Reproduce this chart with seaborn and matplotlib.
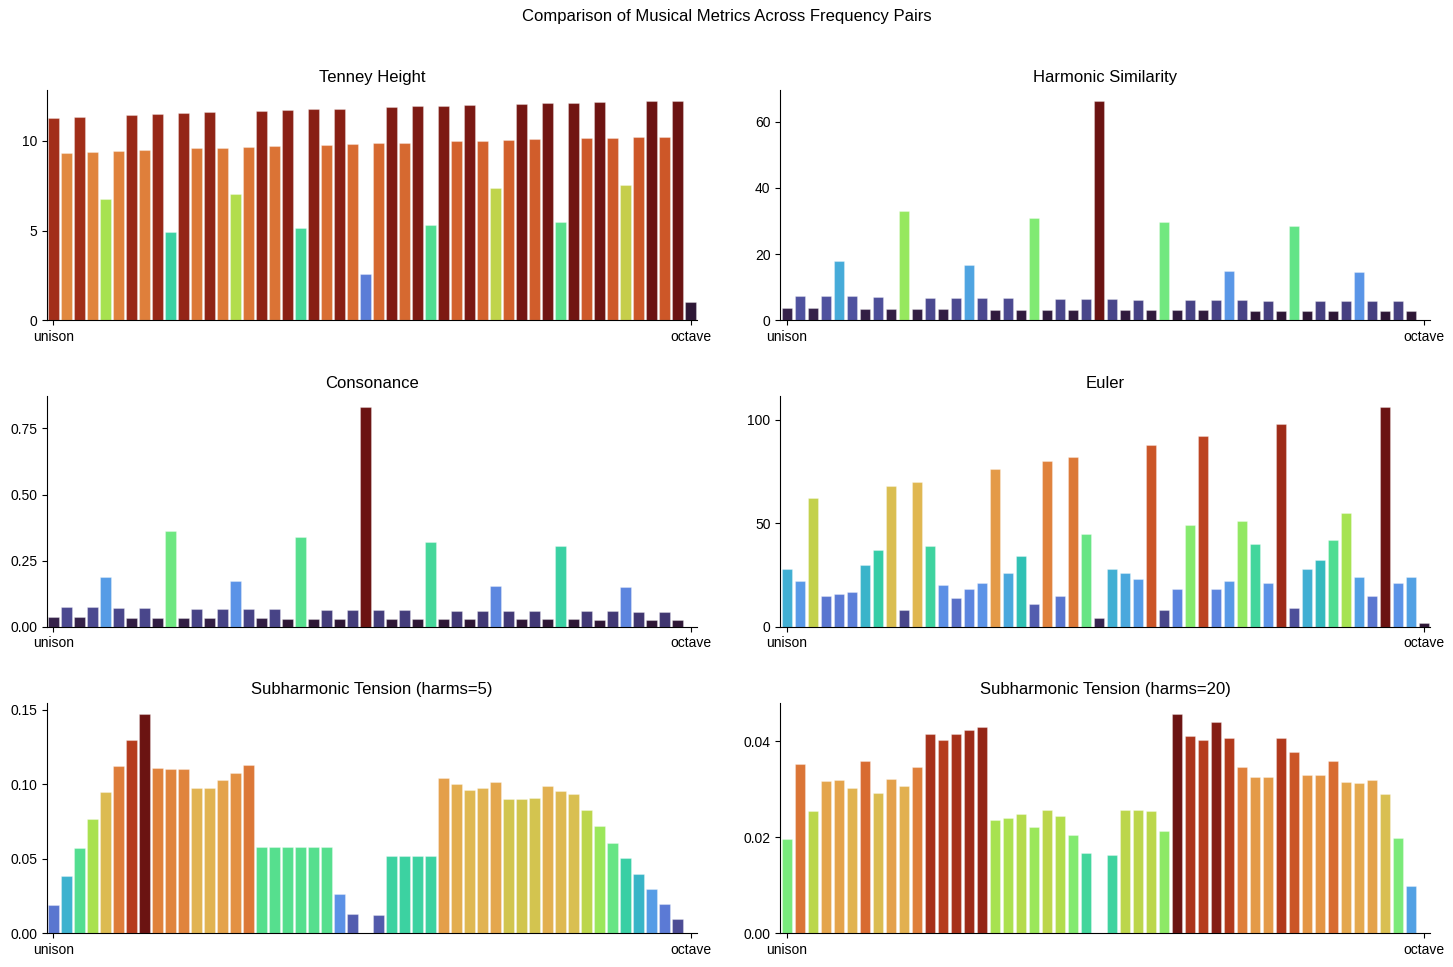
import numpy as np
import pandas as pd
import seaborn as sns
import matplotlib.pyplot as plt
from matplotlib import colors as mcolors
from matplotlib.ticker import MultipleLocator

# values, 50 frequency pairs from unison to octave
tenney_height = [11.28, 9.33, 11.34, 9.39, 6.76, 9.44, 11.45, 9.50, 11.51, 4.92,
                 11.56, 9.61, 11.62, 9.61, 7.04, 9.66, 11.68, 9.72, 11.73, 5.14,
                 11.79, 9.78, 11.79, 9.83, 2.57, 9.89, 11.90, 9.89, 11.96, 5.31,
                 11.96, 10.00, 12.01, 10.00, 7.37, 10.06, 12.07, 10.11, 12.12, 5.47,
                 12.12, 10.17, 12.18, 10.17, 7.54, 10.22, 12.23, 10.22, 12.23, 1.00]

harmonic_similarity = [3.65, 7.3, 3.65, 7.3, 17.9, 7.3, 3.35, 7.0, 3.35, 33.1,
                       3.35, 6.7, 3.35, 6.7, 16.7, 6.7, 3.04, 6.7, 3.04, 31.0,
                       3.04, 6.4, 3.04, 6.4, 66.3, 6.4, 3.04, 6.1, 3.04, 29.8,
                       3.04, 6.1, 3.04, 6.1, 14.9, 6.1, 2.74, 5.8, 2.74, 28.6,
                       2.74, 5.8, 2.74, 5.8, 14.6, 5.8, 2.74, 5.8, 2.74, np.nan]

consonance = [0.038, 0.076, 0.038, 0.076, 0.189, 0.072, 0.034, 0.072, 0.034, 0.364,
              0.034, 0.068, 0.034, 0.068, 0.174, 0.068, 0.034, 0.068, 0.030, 0.341,
              0.030, 0.064, 0.030, 0.064, 0.830, 0.064, 0.030, 0.064, 0.030, 0.322,
              0.030, 0.061, 0.030, 0.061, 0.155, 0.061, 0.030, 0.061, 0.030, 0.307,
              0.030, 0.061, 0.027, 0.061, 0.152, 0.057, 0.027, 0.057, 0.027, np.nan]

euler = [28, 22, 62, 15, 16, 17, 30, 37, 68, 8,
         70, 39, 20, 14, 18, 21, 76, 26, 34, 11,
         80, 15, 82, 45, 4, 28, 26, 23, 88, 8,
         18, 49, 92, 18, 22, 51, 40, 21, 98, 9,
         28, 32, 42, 55, 24, 15, 106, 21, 24, 2]

subharm_5 = [0.0189, 0.0385, 0.0574, 0.0764, 0.0946, 0.1122, 0.1297, 0.1473, 0.1108, 0.1101,
             0.1101, 0.0973, 0.0973, 0.1027, 0.1074, 0.1128, 0.0581, 0.0581, 0.0581, 0.0581,
             0.0581, 0.0581, 0.0264, 0.0128, 0.0, 0.0122, 0.0520, 0.0520, 0.0520, 0.0520,
             0.1041, 0.1000, 0.0959, 0.0973, 0.1014, 0.0899, 0.0899, 0.0905, 0.0986, 0.0953,
             0.0932, 0.0824, 0.0716, 0.0608, 0.0507, 0.0399, 0.0297, 0.0196, 0.0095, 0.0]

subharm_20 = [0.0197, 0.0352, 0.0254, 0.0317, 0.0319, 0.0302, 0.0359, 0.0291, 0.0321, 0.0306,
              0.0346, 0.0415, 0.0403, 0.0415, 0.0424, 0.0430, 0.0235, 0.0239, 0.0249, 0.0222,
              0.0256, 0.0245, 0.0205, 0.0167, 0.0, 0.0163, 0.0256, 0.0256, 0.0254, 0.0212,
              0.0457, 0.0411, 0.0403, 0.0440, 0.0407, 0.0346, 0.0325, 0.0325, 0.0407, 0.0378,
              0.0329, 0.0329, 0.0359, 0.0315, 0.0313, 0.0319, 0.0289, 0.0199, 0.0098, 0.0]

titles = ["Tenney Height", "Harmonic Similarity", "Consonance", "Euler",
          "Subharmonic Tension (harms=5)", "Subharmonic Tension (harms=20)"]
series = [tenney_height, harmonic_similarity, consonance, euler, subharm_5, subharm_20]
tick_steps = [5, 20, 0.25, 50, 0.05, 0.02]

plt.rcParams['font.family'] = ['Liberation Sans', 'DejaVu Sans']

pairs = [str(i) for i in range(len(tenney_height))]
cmap = plt.get_cmap('turbo')

fig, axes = plt.subplots(3, 2, figsize=(14.53, 9.67), dpi=100)

for ax, title, vals, step in zip(axes.flat, titles, series, tick_steps):
    vals = np.array(vals, dtype=float)
    norm = mcolors.Normalize(np.nanmin(vals), np.nanmax(vals))
    palette = [cmap(norm(v)) for v in vals]
    df = pd.DataFrame({'pair': pairs, 'value': vals})
    sns.barplot(data=df, x='pair', y='value', hue='pair', palette=palette,
                legend=False, ax=ax, edgecolor=(1, 1, 1, 0.3), linewidth=0.8)
    ax.set_title(title)
    ax.set_xlabel('')
    ax.set_ylabel('')
    ax.set_xticks([0, len(pairs) - 1])
    ax.set_xticklabels(['unison', 'octave'])
    ax.yaxis.set_major_locator(MultipleLocator(step))
    sns.despine(ax=ax)

fig.suptitle("Comparison of Musical Metrics Across Frequency Pairs", y=0.983, va='center')
fig.subplots_adjust(left=0.0323, right=0.9845, top=0.907, bottom=0.035,
                    wspace=0.128, hspace=0.33)

plt.savefig('out.png', dpi=100)
